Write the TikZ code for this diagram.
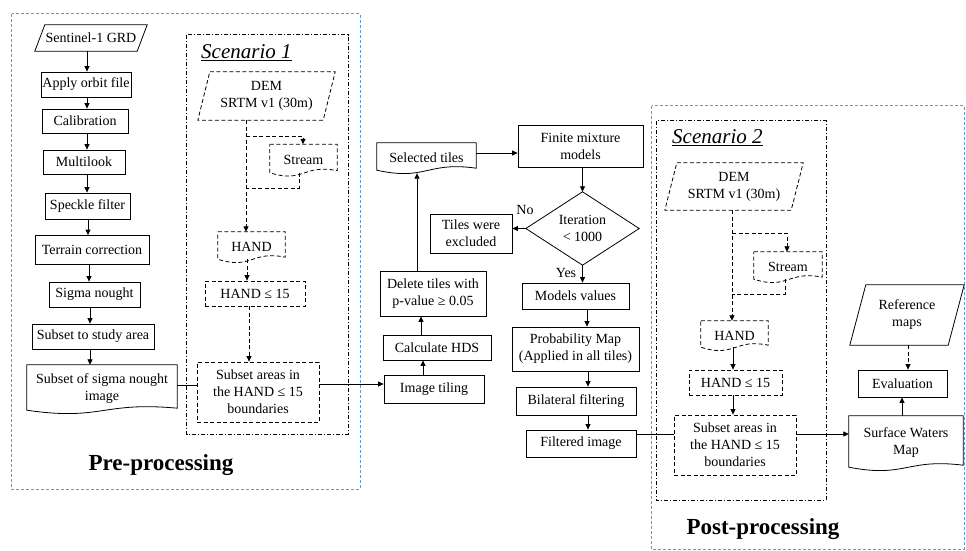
\documentclass[tikz,border=0pt]{standalone}
\usepackage{fontspec}
\setmainfont{Liberation Serif}
\usetikzlibrary{arrows.meta,calc}
\definecolor{blueln}{RGB}{91,155,213}
\newcommand{\txt}{\fontsize{14}{17}\selectfont}
\newcommand{\docshp}[2]{%
  \draw[#2] (#1.north west) -- (#1.north east) -- ([yshift=5pt]#1.south east)
    .. controls ($(#1.south west)!0.5!(#1.south east)+(0pt,12pt)$) and ($(#1.south west)!0.5!(#1.south east)+(0pt,-8pt)$) ..
    ([yshift=3pt]#1.south west) -- cycle;}
\newcommand{\parshp}[3]{%
  \draw[#2] ([xshift=#3]#1.north west) -- (#1.north east) -- ([xshift=-#3]#1.south east) -- (#1.south west) -- cycle;}
\begin{document}
\begin{tikzpicture}[x=1pt,y=-1pt,
  box/.style={draw, line width=0.8pt, rectangle, inner sep=0pt, align=center, font=\txt},
  dbox/.style={box, dsh},
  shp/.style={rectangle, inner sep=0pt, align=center, font=\txt},
  dsh/.style={dash pattern=on 4pt off 2.5pt},
  dashdot/.style={line width=0.8pt, dash pattern=on 4pt off 2pt on 1pt off 2pt},
  blued/.style={draw=blueln, line width=0.8pt, dash pattern=on 3pt off 2pt},
  ln/.style={line width=0.8pt},
  arr/.style={ln, -{Triangle[length=5.5pt,width=5pt]}},
  title/.style={font=\fontsize{23}{28}\selectfont\bfseries},
  scen/.style={font=\fontsize{21}{25}\selectfont\itshape, anchor=west, inner sep=0pt},
  lbl/.style={font=\txt, inner sep=0pt}
]
\useasboundingbox (0,0) rectangle (966,551);

% outer regions
\node[draw=none, minimum width=348pt, minimum height=475pt, inner sep=0pt] (pre) at (186,251.5) {};
\draw[blued] (pre.north west) rectangle (pre.south east);
\node[draw=none, minimum width=312pt, minimum height=443pt, inner sep=0pt] (post) at (808,327.5) {};
\draw[blued] (post.north west) rectangle (post.south east);

\node[title] (pretitle) at (161,465) {Pre-processing};
\node[title] (posttitle) at (763,529) {Post-processing};

% Scenario 1
\node[minimum width=161pt, minimum height=399pt, inner sep=0pt] (sc1) at (267.5,234.5) {};
\draw[dashdot] (sc1.north west) rectangle (sc1.south east);
\node[scen] (sc1lbl) at (201,53) {\underline{Scenario 1}};

% Scenario 2
\node[minimum width=169pt, minimum height=379pt, inner sep=0pt] (sc2) at (741.5,310.5) {};
\draw[dashdot] (sc2.north west) rectangle (sc2.south east);
\node[scen] (sc2lbl) at (672,138) {\underline{Scenario 2}};

% left column
\node[shp, minimum width=112pt, minimum height=26pt] (sent) at (91,38) {Sentinel-1 GRD};
\parshp{sent}{ln}{10pt}
\node[box, minimum width=90pt, minimum height=25pt] (orbit) at (86,84.5) {Apply orbit file};
\node[box, minimum width=86pt, minimum height=24pt] (calib) at (85,121) {Calibration};
\node[box, minimum width=82pt, minimum height=24pt] (multi) at (84,162) {Multilook};
\node[box, minimum width=85pt, minimum height=26pt] (speck) at (87.5,206) {Speckle filter};
\node[box, minimum width=114pt, minimum height=29pt] (terr) at (92,250) {Terrain correction};
\node[box, minimum width=91pt, minimum height=25pt] (sigma) at (94.5,294.5) {Sigma nought};
\node[box, minimum width=122pt, minimum height=25pt] (study) at (93,336.5) {Subset to study area};
\node[shp, minimum width=150pt, minimum height=48pt] (simg) at (102,389) {Subset of sigma nought\\image};
\docshp{simg}{ln}

\draw[arr] (sent.south -| 87,0) -- (orbit.north -| 87,0);
\draw[arr] (orbit.south -| 87,0) -- (calib.north -| 87,0);
\draw[arr] (calib.south -| 87,0) -- (multi.north -| 87,0);
\draw[arr] (multi.south -| 87,0) -- (speck.north -| 87,0);
\draw[arr] (speck.south -| 88,0) -- (terr.north -| 88,0);
\draw[arr] (terr.south -| 89,0) -- (sigma.north -| 89,0);
\draw[arr] (sigma.south -| 90,0) -- (study.north -| 90,0);
\draw[arr] (study.south -| 90,0) -- (simg.north -| 90,0);

% scenario 1 content
\node[shp, minimum width=137pt, minimum height=48pt] (dem1) at (266.5,96) {DEM\\SRTM v1 (30m)};
\parshp{dem1}{ln,dsh}{12pt}
\node[shp, minimum width=67pt, minimum height=31pt] (str1) at (303.5,160) {Stream};
\docshp{str1}{ln,dsh}
\node[shp, minimum width=67pt, minimum height=30pt] (hand1) at (251.5,247) {HAND};
\docshp{hand1}{ln,dsh}
\node[dbox, minimum width=100pt, minimum height=25pt] (le1) at (255,293.5) {HAND ≤ 15};
\node[dbox, minimum width=122pt, minimum height=60pt] (sa1) at (258,392) {Subset areas in\\the HAND ≤ 15\\boundaries};

\coordinate (b1) at (246,136);
\coordinate (m1) at (246,188);
\draw[arr,dsh] (dem1.south -| 246,0) -- (hand1.north -| 246,0);
\draw[arr,dsh] (b1) -| (str1.north -| 303,0);
\draw[ln,dsh] ([yshift=3pt]str1.south -| 299,0) |- (m1);
\draw[arr,dsh] ([yshift=3pt]hand1.south -| 247,0) -- (le1.north -| 247,0);
\draw[arr,dsh] (le1.south -| 249,0) -- (sa1.north -| 249,0);

% middle column
\node[shp, minimum width=99pt, minimum height=30pt] (sel) at (426.5,158) {Selected tiles};
\docshp{sel}{ln}
\node[box, minimum width=125pt, minimum height=42pt] (fmm) at (580.5,146) {Finite mixture\\models};
\node[shp, minimum width=113pt, minimum height=73pt] (iter) at (582.5,228.5) {Iteration\\< 1000};
\draw[ln] (iter.north) -- (iter.east) -- (iter.south) -- (iter.west) -- cycle;
\node[box, minimum width=82pt, minimum height=39pt] (excl) at (471,233.5) {Tiles were\\excluded};
\node[box, minimum width=107pt, minimum height=26pt] (mval) at (575.5,296) {Models values};
\node[box, minimum width=106pt, minimum height=45pt] (del) at (433,293.5) {Delete tiles with\\p-value ≥ 0.05};
\node[box, minimum width=108pt, minimum height=25pt] (hds) at (437,347.5) {Calculate HDS};
\node[box, minimum width=100pt, minimum height=28pt] (tile) at (434,389) {Image tiling};
\node[box, minimum width=127pt, minimum height=44pt] (prob) at (575.5,349) {Probability Map\\(Applied in all tiles)};
\node[box, minimum width=120pt, minimum height=28pt] (bilat) at (576,401) {Bilateral filtering};
\node[box, minimum width=110pt, minimum height=27pt] (filt) at (581,443.5) {Filtered image};

\node[lbl] (nolbl) at (525,210) {No};
\node[lbl] (yeslbl) at (566,273) {Yes};

\draw[ln] (simg.east |- 0,385) -- (sa1.west |- 0,385);
\draw[arr] (sa1.east |- 0,384) -- (tile.west |- 0,384);
\draw[arr] (tile.north -| 423,0) -- (hds.south -| 423,0);
\draw[arr] (hds.north -| 421,0) -- (del.south -| 421,0);
\draw[arr] (del.north -| 417,0) -- (sel.south -| 417,0);
\draw[arr] (sel.east |- 0,153) -- (fmm.west |- 0,153);
\draw[arr] (fmm.south -| iter.north) -- (iter.north);
\draw[arr] (iter.west) -- (excl.east |- iter.west);
\draw[arr] (iter.south) -- (mval.north -| iter.south);
\draw[arr] (mval.south -| 587,0) -- (prob.north -| 587,0);
\draw[arr] (prob.south -| 588,0) -- (bilat.north -| 588,0);
\draw[arr] (bilat.south -| 588,0) -- (filt.north -| 588,0);

% scenario 2 content
\node[shp, minimum width=138pt, minimum height=47pt] (dem2) at (734,186.5) {DEM\\SRTM v1 (30m)};
\parshp{dem2}{ln,dsh}{12pt}
\node[shp, minimum width=68pt, minimum height=30pt] (str2) at (788,267) {Stream};
\docshp{str2}{ln,dsh}
\node[shp, minimum width=67pt, minimum height=29pt] (hand2) at (734.5,335.5) {HAND};
\docshp{hand2}{ln,dsh}
\node[dbox, minimum width=93pt, minimum height=25pt] (le2) at (735.5,382.5) {HAND ≤ 15};
\node[dbox, minimum width=122pt, minimum height=60pt] (sa2) at (735,445) {Subset areas in\\the HAND ≤ 15\\boundaries};

\draw[ln] (filt.east |- 0,434) -- (sa2.west |- 0,434);

\coordinate (b2) at (732,233);
\coordinate (m2) at (732,294);
\draw[arr,dsh] (dem2.south -| 732,0) -- (hand2.north -| 732,0);
\draw[arr,dsh] (b2) -| (str2.north -| 787,0);
\draw[ln,dsh] ([yshift=3pt]str2.south -| 785,0) |- (m2);
\draw[arr] ([yshift=3pt]hand2.south -| 733,0) -- (le2.north -| 733,0);
\draw[arr] (le2.south -| 733,0) -- (sa2.north -| 733,0);

% right column
\node[shp, minimum width=114pt, minimum height=60pt] (ref) at (907,315) {Reference\\maps};
\parshp{ref}{ln}{16pt}
\node[box, minimum width=89pt, minimum height=27pt] (eval) at (902.5,383.5) {Evaluation};
\node[shp, minimum width=114pt, minimum height=54pt] (swm) at (906,443) {Surface Waters\\Map};
\docshp{swm}{ln}

\draw[arr] (sa2.east |- 0,434) -- (swm.west |- 0,434);
\draw[arr] (swm.north -| 902,0) -- (eval.south -| 902,0);
\draw[arr,dsh] (ref.south -| 908,0) -- (eval.north -| 908,0);
\end{tikzpicture}
\end{document}
